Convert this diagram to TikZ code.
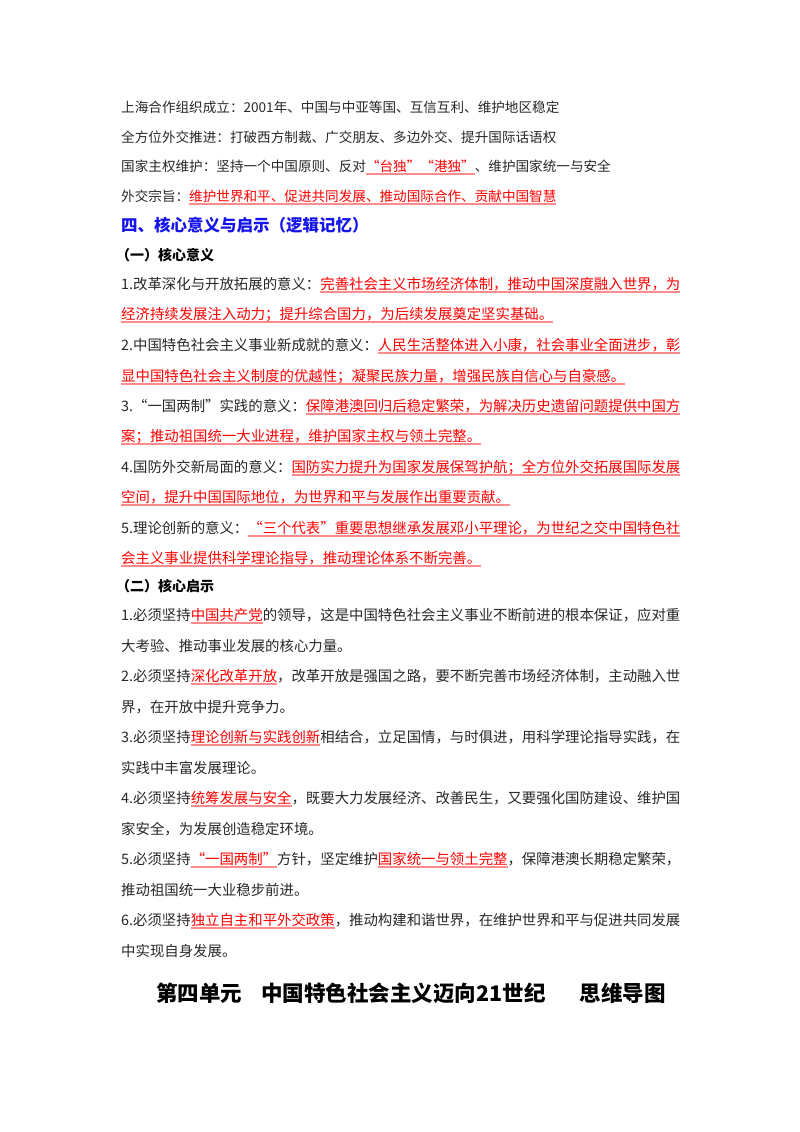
\documentclass[tikz,border=0pt]{standalone}
\usepackage{fontspec}
\setmainfont{Noto Sans CJK SC}
\newsavebox\ulbox
\newcommand\R[1]{\sbox\ulbox{\textcolor{red}{#1}}\rlap{\textcolor{red!45}{\rule[-3.5pt]{\wd\ulbox}{1.8pt}}}\usebox\ulbox}
\definecolor{hblue}{RGB}{20,20,235}
\definecolor{txt}{RGB}{40,40,40}
\tikzset{ln/.style={anchor=west,inner sep=0pt,font=\fontsize{14.4}{16}\selectfont,text=txt},
 sm/.style={ln,font=\fontsize{13.6}{15}\selectfont},
 hd/.style={anchor=west,inner sep=0pt,font=\fontsize{16.5}{19}\selectfont\bfseries,text=hblue},
 sub/.style={anchor=west,inner sep=0pt,font=\fontsize{14}{16}\selectfont\bfseries,text=black},
 ttl/.style={anchor=center,inner sep=0pt,font=\fontsize{21.5}{24}\selectfont\bfseries,text=black}}
\begin{document}
\begin{tikzpicture}[x=1pt,y=-1pt]
\useasboundingbox[fill=white] (0,0) rectangle (800,1132);
\node[sm] (l1) at (121,107) {上海合作组织成立：2001年、中国与中亚等国、互信互利、维护地区稳定};
\node[sm] (l2) at (121,137) {全方位外交推进：打破西方制裁、广交朋友、多边外交、提升国际话语权};
\node[sm] (l3) at (121,167) {国家主权维护：坚持一个中国原则、反对\R{“台独”“港独”}、维护国家统一与安全};
\node[sm] (l4) at (121,197) {外交宗旨：\R{维护世界和平、促进共同发展、推动国际合作、贡献中国智慧}};
\node[hd] (h4) at (121,225) {四、核心意义与启示（逻辑记忆）};
\node[sub] (s1) at (116,255) {（一）核心意义};
\node[ln] (a1) at (121,285) {1.改革深化与开放拓展的意义：\R{完善社会主义市场经济体制，推动中国深度融入世界，为}};
\node[ln] (a1b) at (121,315) {\R{经济持续发展注入动力；提升综合国力，为后续发展奠定坚实基础。}};
\node[ln] (a2) at (121,346) {2.中国特色社会主义事业新成就的意义：\R{人民生活整体进入小康，社会事业全面进步，彰}};
\node[ln] (a2b) at (121,377) {\R{显中国特色社会主义制度的优越性；凝聚民族力量，增强民族自信心与自豪感。}};
\node[ln] (a3) at (121,407) {3.“一国两制”实践的意义：\R{保障港澳回归后稳定繁荣，为解决历史遗留问题提供中国方}};
\node[ln] (a3b) at (121,437) {\R{案；推动祖国统一大业进程，维护国家主权与领土完整。}};
\node[ln] (a4) at (121,468) {4.国防外交新局面的意义：\R{国防实力提升为国家发展保驾护航；全方位外交拓展国际发展}};
\node[ln] (a4b) at (121,498) {\R{空间，提升中国国际地位，为世界和平与发展作出重要贡献。}};
\node[ln] (a5) at (121,529) {5.理论创新的意义：\R{“三个代表”重要思想继承发展邓小平理论，为世纪之交中国特色社}};
\node[ln] (a5b) at (121,559) {\R{会主义事业提供科学理论指导，推动理论体系不断完善。}};
\node[sub] (s2) at (116,586) {（二）核心启示};
\node[ln] (b1) at (121,616) {1.必须坚持\R{中国共产党}的领导，这是中国特色社会主义事业不断前进的根本保证，应对重};
\node[ln] (b1b) at (121,646) {大考验、推动事业发展的核心力量。};
\node[ln] (b2) at (121,677) {2.必须坚持\R{深化改革开放}，改革开放是强国之路，要不断完善市场经济体制，主动融入世};
\node[ln] (b2b) at (121,707) {界，在开放中提升竞争力。};
\node[ln] (b3) at (121,738) {3.必须坚持\R{理论创新与实践创新}相结合，立足国情，与时俱进，用科学理论指导实践，在};
\node[ln] (b3b) at (121,768) {实践中丰富发展理论。};
\node[ln] (b4) at (121,799) {4.必须坚持\R{统筹发展与安全}，既要大力发展经济、改善民生，又要强化国防建设、维护国};
\node[ln] (b4b) at (121,829) {家安全，为发展创造稳定环境。};
\node[ln] (b5) at (121,860) {5.必须坚持\R{“一国两制”}方针，坚定维护\R{国家统一与领土完整}，保障港澳长期稳定繁荣，};
\node[ln] (b5b) at (121,890) {推动祖国统一大业稳步前进。};
\node[ln] (b6) at (121,921) {6.必须坚持\R{独立自主和平外交政策}，推动构建和谐世界，在维护世界和平与促进共同发展};
\node[ln] (b6b) at (121,951) {中实现自身发展。};
\node[ttl] (t) at (411,993) {第四单元\hspace{0.9em}中国特色社会主义迈向21世纪\hspace{1.6em}思维导图};
\end{tikzpicture}
\end{document}
